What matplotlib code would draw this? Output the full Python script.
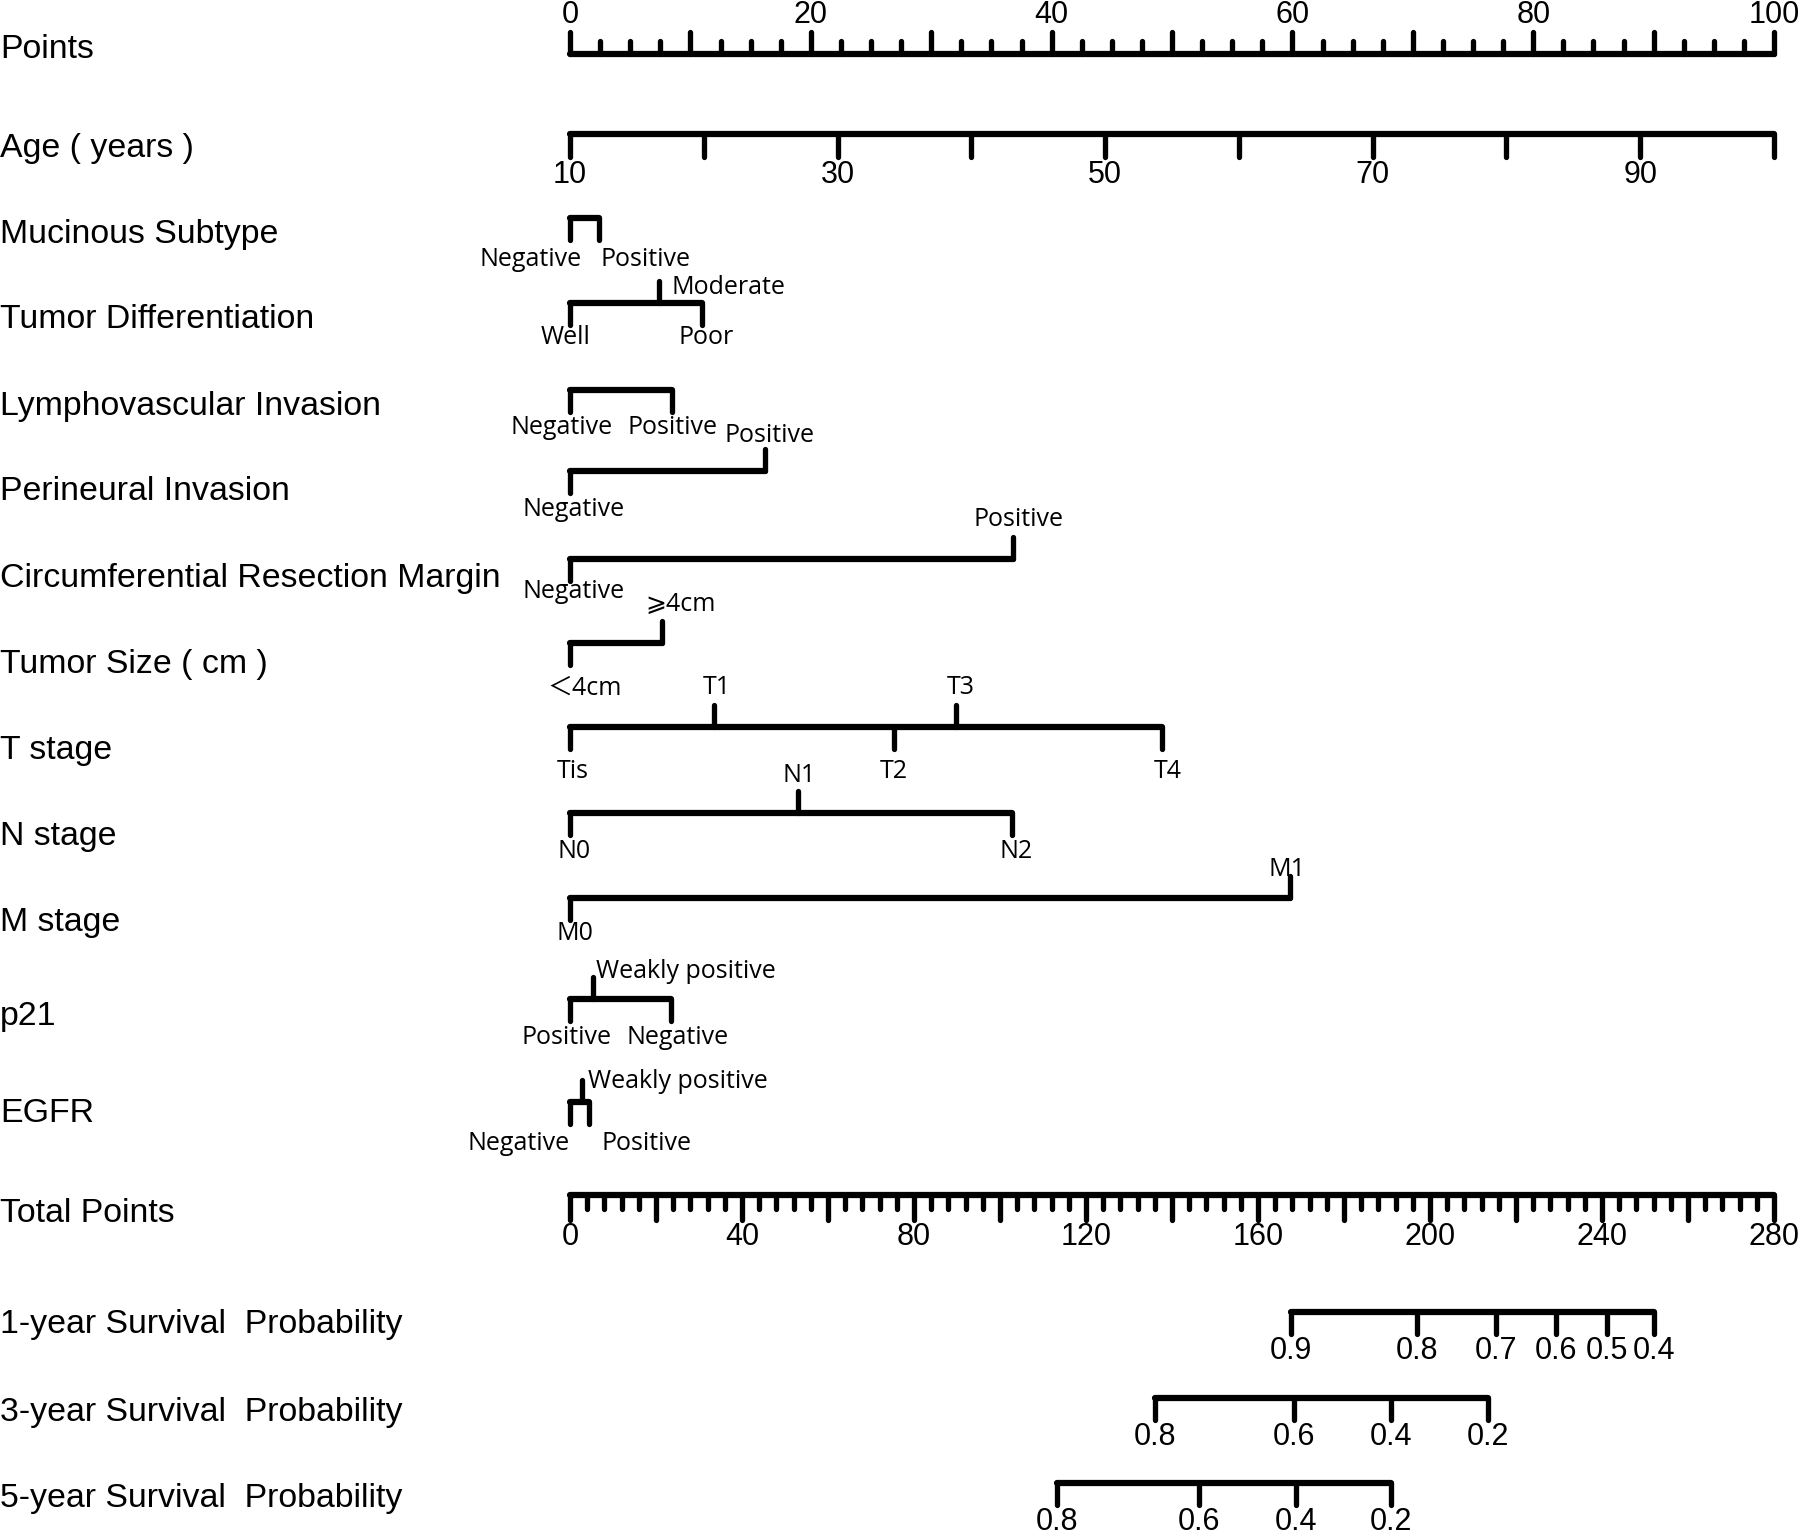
import matplotlib.pyplot as plt
from matplotlib.transforms import blended_transform_factory

# --------------------------
# nomogram data
# --------------------------
row_names = ["Points", "Age ( years )", "Mucinous Subtype", "Tumor Differentiation",
             "Lymphovascular Invasion", "Perineural Invasion",
             "Circumferential Resection Margin", "Tumor Size ( cm )", "T stage",
             "N stage", "M stage", "p21", "EGFR", "Total Points",
             "1-year Survival  Probability", "3-year Survival  Probability",
             "5-year Survival  Probability"]

points_major = [0, 10, 20, 30, 40, 50, 60, 70, 80, 90, 100]
points_labels = [0, 20, 40, 60, 80, 100]

age_values = [10, 20, 30, 40, 50, 60, 70, 80, 90, 100]
age_labels = ["10", "", "30", "", "50", "", "70", "", "90", ""]

muc_levels = ["Negative", "Positive"]
muc_points = [0, 2.4]
diff_levels = ["Well", "Moderate", "Poor"]
diff_points = [0, 7.4, 11.0]
lvi_levels = ["Negative", "Positive"]
lvi_points = [0, 8.5]
pni_levels = ["Negative", "Positive"]
pni_points = [0, 16.2]
crm_levels = ["Negative", "Positive"]
crm_points = [0, 36.8]
size_levels = ["\uff1c4cm", "\u2a7e4cm"]
size_points = [0, 7.6]
t_levels = ["Tis", "T1", "T2", "T3", "T4"]
t_points = [0, 12.0, 26.9, 32.1, 49.2]
n_levels = ["N0", "N1", "N2"]
n_points = [0, 18.9, 36.7]
m_levels = ["M0", "M1"]
m_points = [0, 59.8]
p21_levels = ["Positive", "Weakly positive", "Negative"]
p21_points = [0, 1.9, 8.4]
egfr_levels = ["Negative", "Weakly positive", "Positive"]
egfr_points = [0, 1.0, 1.6]

total_max = 280
total_labels = [0, 40, 80, 120, 160, 200, 240, 280]

surv1_probs = ["0.9", "0.8", "0.7", "0.6", "0.5", "0.4"]
surv1_total = [167.7, 197.0, 215.4, 229.3, 241.2, 252.1]
surv3_probs = ["0.8", "0.6", "0.4", "0.2"]
surv3_total = [136.0, 168.4, 191.0, 213.5]
surv5_probs = ["0.8", "0.6", "0.4", "0.2"]
surv5_total = [113.3, 146.2, 168.8, 191.0]

# --------------------------
# layout (pixels)
# --------------------------
line_y = [54, 134, 218, 303, 390, 471, 559, 643, 727, 813, 898, 999, 1102, 1195, 1312, 1398, 1483]
name_y = [49, 148, 234, 320, 406, 492, 578, 664, 750, 836, 923, 1017, 1114, 1214, 1325, 1412, 1498]

# per level: tick up?, label dy from line, horizontal alignment, x shift (px)
cat_rows = [
    (muc_levels, muc_points, [(0, 42, "right", 12), (0, 42, "left", 2)]),
    (diff_levels, diff_points, [(0, 35, "center", -4), (1, -15, "left", 12),
                                (0, 35, "center", 4)]),
    (lvi_levels, lvi_points, [(0, 38, "center", -8), (0, 38, "center", 0)]),
    (pni_levels, pni_points, [(0, 39, "center", 4), (1, -35, "center", 4)]),
    (crm_levels, crm_points, [(0, 33, "center", 4), (1, -39, "center", 5)]),
    (size_levels, size_points, [(0, 45, "center", 15), (1, -39, "center", 19)]),
    (t_levels, t_points, [(0, 45, "center", 3), (1, -39, "center", 2),
                          (0, 45, "center", 0), (1, -39, "center", 4),
                          (0, 45, "center", 5)]),
    (n_levels, n_points, [(0, 38, "center", 4), (1, -38, "center", 2),
                          (0, 38, "center", 4)]),
    (m_levels, m_points, [(0, 36, "center", 5), (1, -28, "center", -3)]),
    (p21_levels, p21_points, [(0, 38, "center", -3), (1, -27, "left", 3),
                              (0, 38, "center", 6)]),
    (egfr_levels, egfr_points, [(0, 42, "right", 0), (1, -20, "left", 6),
                                (0, 42, "left", 12)]),
]

W, H = 1800, 1536
X0, XLEN = 570, 1204
PX = 100 / XLEN          # points per pixel
LW = 4.5
TICK = 22
num_font = dict(family=["Liberation Sans", "DejaVu Sans"], fontsize=22)
name_font = dict(family=["Liberation Sans", "DejaVu Sans"], fontsize=24.4)
cat_font = dict(family=["Open Sans", "DejaVu Sans", "Noto Sans CJK SC"], fontsize=18)

fig = plt.figure(figsize=(W / 100, H / 100), dpi=100)
ax = fig.add_axes([X0 / W, 0, XLEN / W, 1])
ax.set_xlim(0, 100)
ax.set_ylim(H, 0)
ax.axis("off")


def hline(x0, x1, y):
    ax.plot([x0, x1], [y, y], color="black", lw=LW, solid_capstyle="round", clip_on=False)


def tick(x, y, length, up=False):
    y1 = y - length if up else y + length
    ax.plot([x, x], [y, y1], color="black", lw=LW * 0.85, solid_capstyle="round", clip_on=False)


# row names
name_tr = blended_transform_factory(fig.transFigure, ax.transData)
for name, y in zip(row_names, name_y):
    ax.text(0, y, name, transform=name_tr, ha="left", va="center", **name_font)

# Points scale
y = line_y[0]
hline(0, 100, y)
for i in range(41):
    p = i * 2.5
    tick(p, y, TICK if p in points_major else 13, up=True)
for p in points_labels:
    ax.text(p, y - 39, str(p), ha="center", va="center", **num_font)

# Age
y = line_y[1]
age_pts = [(a - 10) / 0.9 for a in age_values]
hline(age_pts[0], age_pts[-1], y)
for p, lab in zip(age_pts, age_labels):
    tick(p, y, TICK + 1)
    if lab:
        ax.text(p, y + 41, lab, ha="center", va="center", **num_font)

# categorical predictors
for row, (levels, pts, places) in enumerate(cat_rows, start=2):
    y = line_y[row]
    hline(min(pts), max(pts), y)
    for lab, p, (up, dy, ha, dx) in zip(levels, pts, places):
        tick(p, y, TICK, up=bool(up))
        ax.text(p + dx * PX, y + dy, lab, ha=ha, va="center", **cat_font)

# Total Points
y = line_y[13]
to_pts = 100 / total_max
hline(0, 100, y)
for t in range(0, total_max + 1, 4):
    tick(t * to_pts, y, 25 if t % 20 == 0 else 14)
for t in total_labels:
    ax.text(t * to_pts, y + 42, str(t), ha="center", va="center", **num_font)

# survival probabilities
for row, probs, totals in [(14, surv1_probs, surv1_total),
                           (15, surv3_probs, surv3_total),
                           (16, surv5_probs, surv5_total)]:
    y = line_y[row]
    xs = [t * to_pts for t in totals]
    hline(min(xs), max(xs), y)
    for x, lab in zip(xs, probs):
        tick(x, y, TICK)
        ax.text(x, y + 24, lab, ha="center", va="top", **num_font)

fig.savefig("out.png", dpi=100, facecolor="white")
